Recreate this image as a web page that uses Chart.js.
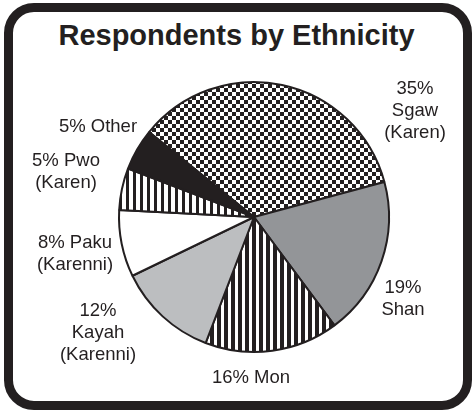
<!DOCTYPE html>
<html>
<head>
<meta charset="utf-8">
<script src="https://cdn.jsdelivr.net/npm/chart.js@4"></script>
<style>
    html, body { margin: 0; padding: 0; background: #fff; }
    #frame {
        position: absolute; left: 4px; top: 3px; width: 468px; height: 407px;
        box-sizing: border-box; border: 9px solid #231f20; border-radius: 30px;
    }
    #title {
        position: absolute; left: 0; top: 19px; width: 473px; text-align: center;
        font: bold 29px "Liberation Sans", Arial, sans-serif; color: #231f20;
    }
    #pieChart { position: absolute; left: 0; top: 0; }
</style>
</head>
<body>
<div id="frame"></div>
<div id="title">Respondents by Ethnicity</div>
<canvas id="pieChart" width="473" height="411"></canvas>
<script>
// 응답자 민족 구성 (%)
const groups = ['Sgaw (Karen)', 'Shan', 'Mon', 'Kayah (Karenni)', 'Paku (Karenni)', 'Pwo (Karen)', 'Other'];
const shares = [35, 19, 16, 12, 8, 5, 5];
const labelLines = [
    ['35%', 'Sgaw', '(Karen)'],
    ['19%', 'Shan'],
    ['16% Mon'],
    ['12%', 'Kayah', '(Karenni)'],
    ['8% Paku', '(Karenni)'],
    ['5% Pwo', '(Karen)'],
    ['5% Other'],
];
// 라벨 블록 중심 위치 (파이 중심 기준 px)
const labelOffsets = [[161, -106], [149, 82], [-3, 161], [-156, 116], [-179, 37], [-188, -45], [-156, -90]];

const INK = '#231f20';

function makeChecker(size) {
    const c = document.createElement('canvas');
    c.width = size * 2; c.height = size * 2;
    const g = c.getContext('2d');
    g.fillStyle = '#fff'; g.fillRect(0, 0, c.width, c.height);
    g.fillStyle = INK;
    g.fillRect(0, 0, size, size);
    g.fillRect(size, size, size, size);
    return g.createPattern(c, 'repeat');
}

function makeStripes(period, black) {
    const c = document.createElement('canvas');
    c.width = period; c.height = period;
    const g = c.getContext('2d');
    g.fillStyle = '#fff'; g.fillRect(0, 0, period, period);
    g.fillStyle = INK; g.fillRect(0, 0, black, period);
    return g.createPattern(c, 'repeat');
}

const fills = [
    makeChecker(4),
    '#939598',
    makeStripes(7, 4),
    '#bcbec0',
    '#ffffff',
    makeStripes(7, 3),
    INK,
];

const outsideLabels = {
    id: 'outsideLabels',
    afterDraw(chart) {
        const ctx = chart.ctx;
        const arcs = chart.getDatasetMeta(0).data;
        ctx.save();
        ctx.fillStyle = INK;
        ctx.font = '18.5px "Liberation Sans", Arial, sans-serif';
        ctx.textAlign = 'center';
        ctx.textBaseline = 'middle';
        const lh = 22;
        arcs.forEach((arc, i) => {
            const lines = labelLines[i];
            const cx = arc.x + labelOffsets[i][0];
            const cy = arc.y + labelOffsets[i][1] - (lines.length - 1) * lh / 2;
            lines.forEach((t, k) => ctx.fillText(t, cx, cy + k * lh));
        });
        ctx.restore();
    }
};

function InitPieChart() {
    const ctx = document.getElementById('pieChart').getContext('2d');
    new Chart(ctx, {
        type: 'pie',
        data: {
            labels: groups,
            datasets: [{
                data: shares,
                backgroundColor: fills,
                borderColor: INK,
                borderWidth: 2,
            }],
        },
        options: {
            responsive: false,
            animation: false,
            rotation: -51,
            layout: { padding: { left: 118, right: 83, top: 81, bottom: 58 } },
            plugins: {
                legend: { display: false },
                tooltip: { enabled: false },
            },
        },
        plugins: [outsideLabels],
    });
}

InitPieChart();
</script>
</body>
</html>
